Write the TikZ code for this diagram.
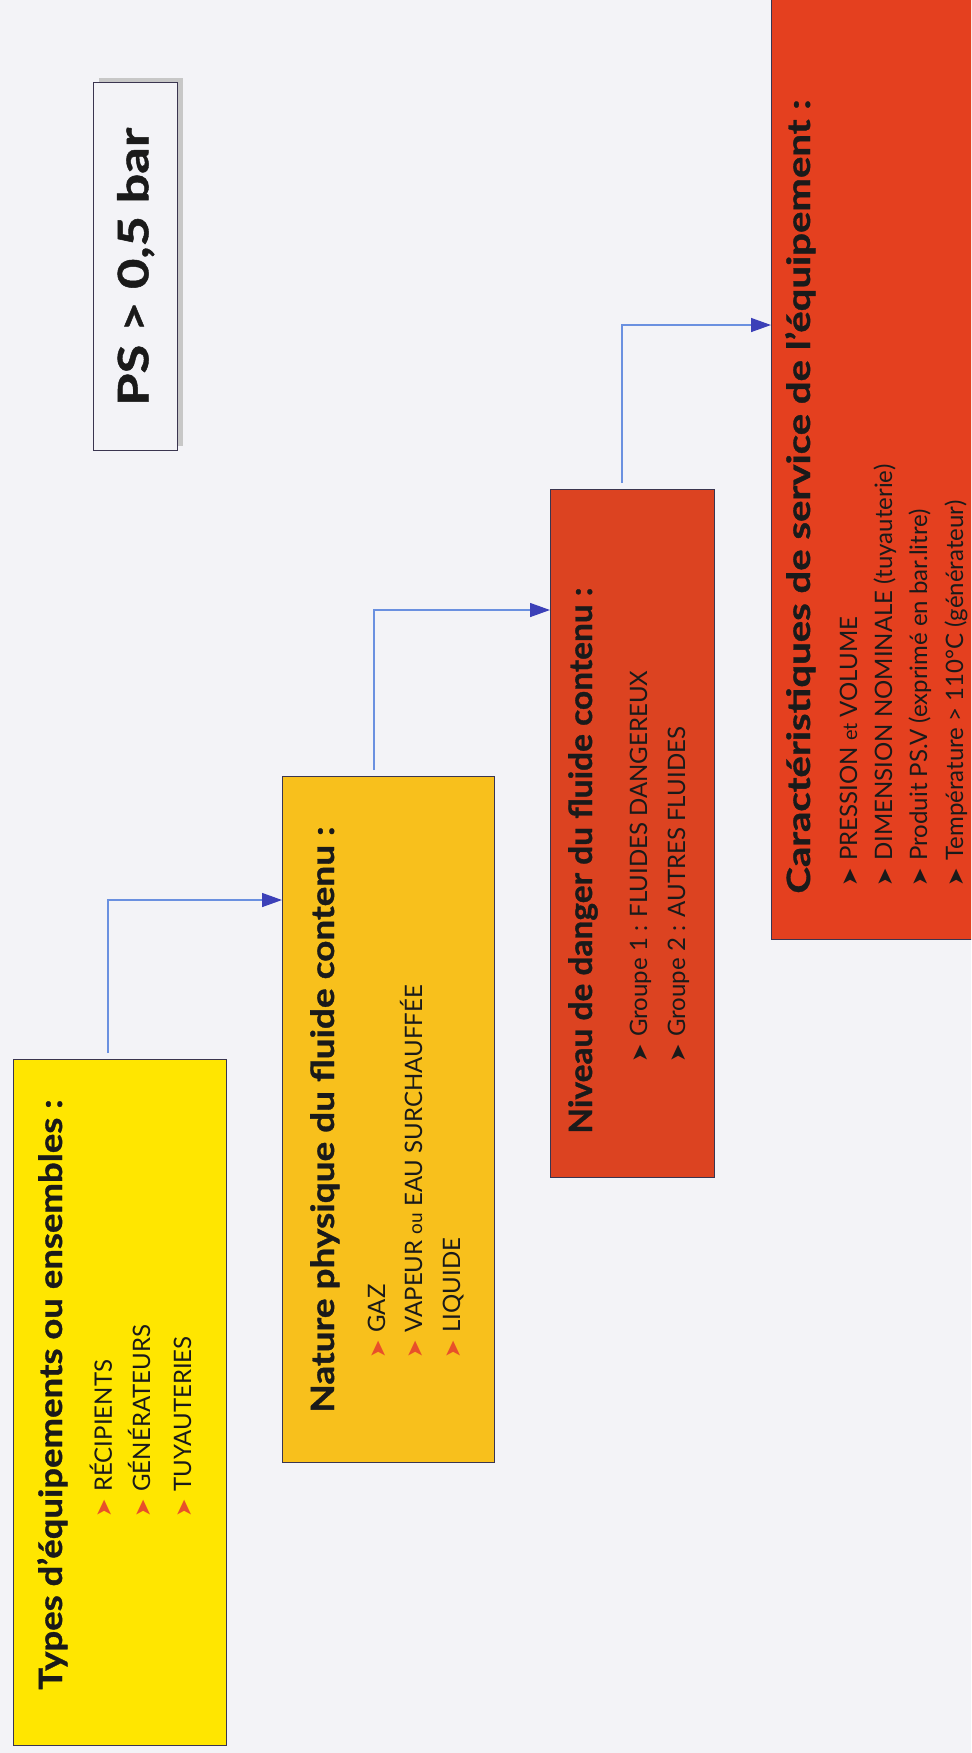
\documentclass[tikz,border=0pt]{standalone}
\usepackage{fontspec}
\setmainfont{Lato}[BoldFeatures={FakeBold=1}]
\newfontfamily\symfont{DejaVu Sans}
\usetikzlibrary{arrows.meta,calc,shadows}
\definecolor{bg}{HTML}{F3F3F7}
\definecolor{yel}{HTML}{FFE600}
\definecolor{gold}{HTML}{F8C01C}
\definecolor{redA}{HTML}{DC4321}
\definecolor{redB}{HTML}{E4401F}
\definecolor{edge}{HTML}{3A3550}
\definecolor{lineblue}{HTML}{6A90E0}
\definecolor{tipblue}{HTML}{3C40B8}
\definecolor{bulred}{HTML}{E8502A}
\definecolor{ink}{HTML}{1A1A1A}
\newcommand\bul[1]{\makebox[10pt][l]{\color{#1}\symfont\fontsize{11}{12}\selectfont ➤}\hspace{3pt}}
\newcommand\hfit[2]{\resizebox{#1}{\height}{#2}}
\begin{document}
\begin{tikzpicture}[x=0.5pt,y=-0.5pt,
  box/.style={draw=edge, line width=0.7pt, inner sep=0pt, rectangle},
  title/.style={rotate=90, anchor=base west, inner sep=0pt, text=ink, font=\bfseries\fontsize{16}{18}\selectfont},
  item/.style={rotate=90, anchor=base west, inner sep=0pt, text=ink, font=\fontsize{12}{14}\selectfont},
  conn/.style={draw=lineblue, line width=0.7pt, shorten <=3pt, -{Triangle[length=10pt,width=7pt,color=tipblue]}}]
\useasboundingbox (0,0) rectangle (971,1753);
\clip (0,0) rectangle (971,1753);
\fill[bg] (0,0) rectangle (971,1753);

% PS box
\node[box, fill=bg, minimum width=42pt, minimum height=184pt, anchor=north west,
  drop shadow={shadow xshift=2.5pt, shadow yshift=2.5pt, fill=black!22, opacity=1}] (ps) at (93,82) {};
\node[rotate=90, inner sep=0pt, text=ink, font=\bfseries\fontsize{21}{24}\selectfont] (pst) at (ps.center) {\hfit{139pt}{PS > 0,5 bar}};

% boxes
\node[box, fill=yel,  minimum width=106.5pt, minimum height=343pt, anchor=north west] (b1) at (13,1059) {};
\node[box, fill=gold, minimum width=106pt,   minimum height=343pt, anchor=north west] (b2) at (282,776) {};
\node[box, fill=redA, minimum width=82pt,    minimum height=344pt, anchor=north west] (b3) at (550,489) {};
\node[box, fill=redB, minimum width=110pt,   minimum height=480pt, anchor=south west] (b4) at (771,940) {};

% box 1 text
\node[title] (t1) at (62,1690) {\hfit{295pt}{Types d’équipements ou ensembles :}};
\node[item] (i1a) at (112,1518) {\bul{bulred}RÉCIPIENTS};
\node[item] (i1b) at (150,1518) {\bul{bulred}GÉNÉRATEURS};
\node[item] (i1c) at (191,1518) {\bul{bulred}TUYAUTERIES};

% box 2 text
\node[title] (t2) at (334,1413) {\hfit{293pt}{Nature physique du fluide contenu :}};
\node[item] (i2a) at (385,1359) {\bul{bulred}GAZ};
\node[item] (i2b) at (422,1359) {\bul{bulred}VAPEUR {\fontsize{9.5}{10}\selectfont ou} EAU SURCHAUFFÉE};
\node[item] (i2c) at (460,1359) {\bul{bulred}LIQUIDE};

% box 3 text
\node[title] (t3) at (592,1134) {\hfit{273pt}{Niveau de danger du fluide contenu :}};
\node[item] (i3a) at (647,1063) {\bul{ink}Groupe 1 : FLUIDES DANGEREUX};
\node[item] (i3b) at (685,1063) {\bul{ink}Groupe 2 : AUTRES FLUIDES};

% box 4 text
\node[title] (t4) at (810,894) {\hfit{397pt}{Caractéristiques de service de l’équipement :}};
\node[item] (i4a) at (857,887) {\bul{ink}PRESSION {\fontsize{10}{11}\selectfont et} VOLUME};
\node[item] (i4b) at (892,887) {\bul{ink}DIMENSION NOMINALE (tuyauterie)};
\node[item] (i4c) at (927,887) {\bul{ink}Produit PS.V (exprimé en bar.litre)};
\node[item] (i4d) at (963,887) {\bul{ink}Température > 110°C (générateur)};

% connectors
\draw[conn] ($(b1.north west)+(95,0)$) |- ($(b2.north west)+(0,124)$);
\draw[conn] ($(b2.north west)+(92,0)$) |- ($(b3.north west)+(0,121)$);
\draw[conn] ($(b3.north west)+(72,0)$) |- ($(b4.south west)+(0,-615)$);
\end{tikzpicture}
\end{document}
